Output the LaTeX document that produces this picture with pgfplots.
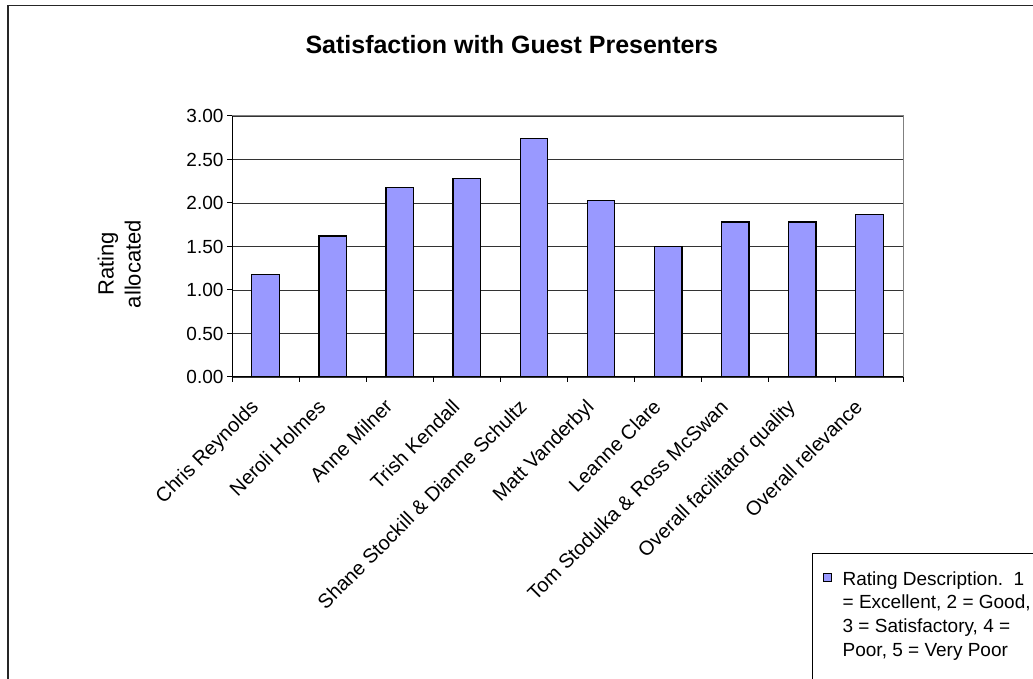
\documentclass[border=0pt]{standalone}
\usepackage{fontspec}
\setmainfont{Liberation Sans}
\usepackage{pgfplots}
\pgfplotsset{compat=1.18}
\definecolor{barblue}{HTML}{9999FF}
\begin{document}
\begin{tikzpicture}[x=1pt,y=1pt]
\useasboundingbox (0,0) rectangle (1033,679);
\clip (0,0) rectangle (1033,679);
\fill[white] (0,0) rectangle (1033,679);
\draw[black!85, line width=1.5pt] (8,-20) -- (8,673.5) -- (1050,673.5);
\begin{axis}[
  at={(232pt,302pt)}, anchor=south west,
  scale only axis, width=671pt, height=261pt,
  xmin=0.5, xmax=10.5, ymin=0, ymax=3,
  /pgf/number format/assume math mode=true,
  ytick={0,0.5,1,1.5,2,2.5,3},
  yticklabel style={/pgf/number format/.cd, fixed, fixed zerofill, precision=2},
  tick label style={font=\fontsize{19}{22}\selectfont},
  xtick={1,...,10},
  xticklabels={Chris Reynolds, Neroli Holmes, Anne Milner, Trish Kendall, Shane Stockill \& Dianne Schultz, Matt Vanderbyl, Leanne Clare, Tom Stodulka \& Ross McSwan, Overall facilitator quality, Overall relevance},
  xticklabel style={font=\fontsize{20}{23}\selectfont, rotate=45, anchor=east, text height=14pt, text depth=4pt, xshift=-19.3pt, yshift=-9.3pt},
  xtick style={draw=none},
  extra x ticks={0.5,1.5,...,10.5},
  extra x tick labels={},
  extra x tick style={xtick style={draw=black, line width=1pt}, grid=none},
  ytick style={draw=black, line width=1pt},
  major tick length=5pt,
  xtick pos=left, ytick pos=left, tick align=outside,
  ymajorgrids, grid style={black!80, line width=0.8pt},
  axis line style={draw=gray, line width=1pt},
  title={Satisfaction with Guest Presenters},
  title style={font=\fontsize{25}{30}\selectfont\bfseries, at={(axis description cs:0.417,1.218)}, anchor=base},
  ylabel={Rating\\allocated},
  ylabel style={align=center, font=\fontsize{22}{27}\selectfont, at={(axis description cs:-0.168,0.433)}, anchor=center},
  legend style={at={(axis description cs:0.8644,-0.674)}, anchor=north west, draw=black, line width=1pt, font=\fontsize{19}{23.7}\selectfont, inner xsep=10pt, inner ysep=15pt, nodes={inner sep=0pt, text depth=}, cells={anchor=base west}, /tikz/every odd column/.append style={column sep=11pt}},
  legend image code/.code={\path (0pt,0pt); \draw[#1, line width=1pt] (0pt,4pt) rectangle (8pt,12pt);},
]
\addplot[ybar, fill=barblue, draw=black, line width=1.3pt, bar width=27.5pt] coordinates {(1,1.18) (2,1.62) (3,2.18) (4,2.28) (5,2.74) (6,2.03) (7,1.50) (8,1.78) (9,1.78) (10,1.87)};
\addlegendentry{\begin{tabular}[t]{@{}l@{}}Rating Description.\ \ 1\\= Excellent, 2 = Good,\\3 = Satisfactory, 4 =\\Poor, 5 = Very Poor\rule[-14pt]{0pt}{1pt}\end{tabular}}
\draw[black, line width=1.2pt] (rel axis cs:0,1) -- (rel axis cs:0,0) -- (rel axis cs:1,0);
\end{axis}
\end{tikzpicture}
\end{document}
